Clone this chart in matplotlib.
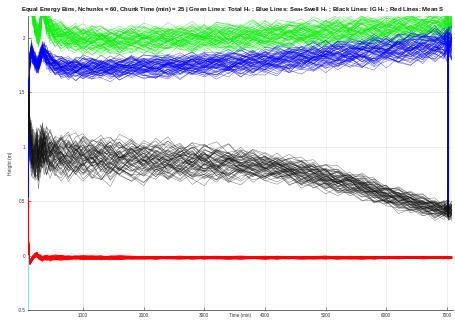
import numpy as np
import matplotlib
matplotlib.use("Agg")
import matplotlib.pyplot as plt

plt.rcParams['font.family'] = ['Liberation Sans', 'DejaVu Sans']

xk = [93, 110, 125, 150, 175, 210, 240, 265, 300, 330, 360, 400, 460, 540, 640,
      760, 880, 1000, 1150, 1300, 1450, 1600, 1800, 2000, 2200, 2400, 2600, 2800,
      3000, 3200, 3400, 3600, 3800, 4000, 4200, 4400, 4600, 4800, 5000, 5200,
      5400, 5600, 5800, 6000, 6200, 6400, 6600, 6800, 6950, 7005, 7016, 7030, 7080]

# Total Hs (green), band centre and half width
green_c = [2.45, 2.3, 2.28, 2.33, 2.22, 2.1, 2.04, 2.02, 2.12, 2.3, 2.24, 2.14, 2.08,
           2.04, 2.02, 2.0, 1.99, 1.98, 1.98, 1.97, 1.97, 1.97, 1.98, 1.98, 1.98,
           1.99, 1.99, 1.99, 2.0, 2.0, 2.0, 2.0, 2.01, 2.01, 2.02, 2.02, 2.03, 2.03,
           2.04, 2.05, 2.05, 2.06, 2.06, 2.07, 2.08, 2.08, 2.09, 2.1, 2.1, 2.1, 2.1,
           2.1, 2.1]
green_w = [0.08, 0.1, 0.1, 0.12, 0.12, 0.11, 0.11, 0.11, 0.12, 0.13, 0.13, 0.13, 0.13,
           0.13, 0.13, 0.14, 0.14, 0.14, 0.14, 0.14, 0.14, 0.14, 0.14, 0.14, 0.14,
           0.14, 0.14, 0.14, 0.14, 0.15, 0.15, 0.15, 0.15, 0.15, 0.15, 0.15, 0.15,
           0.15, 0.15, 0.16, 0.16, 0.16, 0.16, 0.16, 0.16, 0.16, 0.16, 0.16, 0.16,
           0.16, 0.16, 0.16, 0.16]

# Sea+Swell Hs (blue)
blue_c = [0.55, 1.55, 1.8, 1.88, 1.83, 1.78, 1.75, 1.76, 1.83, 1.88, 1.86, 1.82, 1.78,
          1.75, 1.73, 1.72, 1.72, 1.72, 1.72, 1.72, 1.72, 1.72, 1.73, 1.73, 1.73,
          1.74, 1.74, 1.75, 1.75, 1.76, 1.76, 1.77, 1.77, 1.78, 1.79, 1.8, 1.81,
          1.82, 1.83, 1.84, 1.85, 1.86, 1.87, 1.88, 1.89, 1.9, 1.91, 1.93, 1.94,
          1.94, 0.45, 1.94, 1.94]
blue_w = [0.03, 0.08, 0.09, 0.09, 0.09, 0.09, 0.09, 0.09, 0.09, 0.09, 0.1, 0.1, 0.1,
          0.1, 0.11, 0.11, 0.11, 0.11, 0.11, 0.11, 0.11, 0.11, 0.12, 0.12, 0.12,
          0.12, 0.12, 0.12, 0.12, 0.13, 0.13, 0.13, 0.13, 0.13, 0.14, 0.14, 0.14,
          0.14, 0.14, 0.15, 0.15, 0.15, 0.15, 0.15, 0.16, 0.16, 0.16, 0.16, 0.16,
          0.16, 0.02, 0.16, 0.16]

# IG Hs (black)
black_c = [1.4, 1.25, 1.08, 0.98, 0.92, 0.9, 0.95, 0.88, 0.95, 1.0, 0.98, 0.95, 0.93,
           0.92, 0.91, 0.9, 0.9, 0.9, 0.89, 0.89, 0.88, 0.88, 0.88, 0.87, 0.87,
           0.86, 0.86, 0.85, 0.85, 0.84, 0.84, 0.83, 0.82, 0.81, 0.8, 0.78, 0.76,
           0.74, 0.71, 0.68, 0.66, 0.63, 0.59, 0.55, 0.52, 0.49, 0.46, 0.43, 0.42,
           0.42, 0.42, 0.41, 0.41]
black_w = [0.15, 0.22, 0.26, 0.26, 0.25, 0.24, 0.24, 0.25, 0.25, 0.24, 0.23, 0.22, 0.22,
           0.22, 0.22, 0.22, 0.22, 0.22, 0.22, 0.22, 0.22, 0.21, 0.21, 0.21, 0.21,
           0.2, 0.2, 0.2, 0.2, 0.19, 0.18, 0.17, 0.16, 0.15, 0.14, 0.14, 0.14,
           0.14, 0.14, 0.13, 0.13, 0.13, 0.12, 0.12, 0.12, 0.11, 0.1, 0.1, 0.09,
           0.09, 0.09, 0.09, 0.09]

# mean (red)
red_c = [0.5, -0.04, -0.06, -0.04, -0.02, 0.0, 0.01, -0.01, -0.02, -0.03, -0.02, -0.02,
         -0.025, -0.02, -0.02, -0.02, -0.02, -0.02, -0.02, -0.02, -0.02, -0.02, -0.02,
         -0.02, -0.02, -0.02, -0.02, -0.02, -0.02, -0.02, -0.02, -0.02, -0.02, -0.02,
         -0.02, -0.02, -0.02, -0.02, -0.02, -0.02, -0.02, -0.02, -0.02, -0.02, -0.02,
         -0.02, -0.02, -0.02, -0.02, -0.02, -0.02, -0.02, -0.02]
red_w = [0.02, 0.025, 0.025, 0.025, 0.025, 0.025, 0.025, 0.025, 0.025, 0.025, 0.025,
         0.025, 0.025, 0.025, 0.025, 0.02, 0.02, 0.02, 0.02, 0.02, 0.02, 0.02, 0.015,
         0.015, 0.015, 0.015, 0.015, 0.015, 0.015, 0.015, 0.015, 0.015, 0.015, 0.015,
         0.015, 0.015, 0.015, 0.015, 0.015, 0.015, 0.015, 0.015, 0.015, 0.012, 0.012,
         0.012, 0.012, 0.012, 0.012, 0.012, 0.012, 0.012, 0.012]

# short cyan trace at the start
cyan_x = [93, 93]
cyan_y = [0.0, -0.5]

# per-chunk position inside the band and a wiggle pattern (estimated)
offsets = [0.05, -0.3, 0.6, -0.1, 0.25, -0.7, 0.15, 0.9, -0.45, 0.35, -0.05, 0.5,
           -0.2, -0.95, 0.1, 0.7, -0.35, 0.2, -0.6, 0.4, 0.0, -0.15, 0.8, -0.5, 0.3,
           -0.25, 0.55, -0.8, 0.12, -0.4, 0.65, -0.08, 0.45, -0.55, 0.22, 1.0, -0.18,
           0.33, -0.75, 0.08, -0.28, 0.58, -0.02, 0.38, -0.65, 0.18, -0.9, 0.48,
           -0.12, 0.28, -0.48, 0.75, -0.22, 0.02, 0.62, -0.38, 0.42, -0.58, 0.85, -0.85]
wiggle = [0.3, -0.2, 0.5, 0.1, -0.6, -0.1, 0.7, 0.2, -0.4, 0.6, -0.8, 0.0, 0.4, -0.3, 0.9, -0.5, 0.2, -0.7, 0.5, 0.8,
          -0.2, -0.9, 0.3, 0.6, -0.4, 0.1, -0.6, 0.7, -0.1, 0.4, -0.8, 0.2, 0.9, -0.3, -0.5, 0.6, 0.0, -0.7, 0.3, 0.8,
          -0.4, 0.5, -0.2, -0.9, 0.7, 0.1, -0.5, 0.4, -0.1, 0.8, -0.6, 0.2, 0.6, -0.3, -0.8, 0.5, 0.3, -0.4, 0.9, -0.2,
          0.1, -0.7, 0.6, 0.4, -0.5, 0.0, 0.7, -0.9, 0.3, -0.1, 0.5, -0.6, 0.8, 0.2, -0.4, -0.2, 0.9, -0.7, 0.4, 0.1,
          -0.3, 0.6, -0.8, 0.5, 0.2, -0.5, 0.7, -0.1, -0.6, 0.3, 0.8, -0.4, 0.0, 0.6, -0.9, 0.4, -0.2, 0.7, -0.5, 0.1,
          0.5, -0.3, 0.9, -0.6, 0.2, -0.8, 0.4, 0.6, -0.1, -0.4]

xticks = [1000, 2000, 3000, 4000, 5000, 6000, 7000]
yticks = [-0.5, 0, 0.5, 1, 1.5, 2]
ytick_labels = ['-0.5', '0', '0.5', '1', '1.5', '2']

title = ('Equal Energy Bins, Nchunks = 60, Chunk Time (min) = 25 | Green Lines: Total H$_s$ ; '
         'Blue Lines: Sea+Swell H$_s$ ; Black Lines: IG H$_s$ ; Red Lines: Mean S')


def chunk_lines(centre, width, shift):
	K = len(xk)
	off = np.roll(np.array(offsets), shift)
	W = np.array(wiggle)
	span = len(W) - K + 1
	cols = []
	for i in range(len(off)):
		s = (i * 13 + shift) % span
		cols.append(np.array(centre) + np.array(width) * (0.75 * off[i] + 0.45 * W[s:s + K]))
	return np.array(cols).T


fig = plt.figure(figsize=(4.56, 3.2), dpi=100)
ax = fig.add_axes([28 / 456, 10 / 320, 425 / 456, 294 / 320])

ax.plot(xk, chunk_lines(green_c, green_w, 0), color='#11ee11', lw=0.3, alpha=0.85, zorder=3)
ax.plot(xk, chunk_lines(blue_c, blue_w, 17), color='#0000ff', lw=0.3, alpha=0.75, zorder=3)
ax.plot(xk, chunk_lines(black_c, black_w, 31), color='#111111', lw=0.3, alpha=0.65, zorder=3)
ax.plot(xk, chunk_lines(red_c, red_w, 44), color='#ff0000', lw=0.4, alpha=0.8, zorder=3)
ax.plot(cyan_x, cyan_y, color='#aaf0f0', lw=1.2, zorder=3)

ax.set_xlim(93, 7100)
ax.set_ylim(-0.5, 2.2)
ax.set_xticks(xticks)
ax.set_yticks(yticks)
ax.set_yticklabels(ytick_labels)
ax.tick_params(direction='in', length=2, width=0.4, labelsize=3.3, colors='#333333', pad=2)
ax.grid(color='#e8e8e8', lw=0.5)
ax.set_axisbelow(True)
for s in ['top', 'right']:
	ax.spines[s].set_visible(False)
for s in ['left', 'bottom']:
	ax.spines[s].set_color('#555555')
	ax.spines[s].set_linewidth(0.6)
	ax.spines[s].set_zorder(1)

ax.set_ylabel('Height (m)', fontsize=3.6, color='#333333', labelpad=3)
ax.set_xlabel('Time (min)', fontsize=3.3, color='#333333')
ax.xaxis.set_label_coords(0.5, -0.011)

fig.text(21 / 456, 1 - 10 / 320, title,
	fontsize=4.3, fontweight='bold', ha='left', va='center', color='#111111')

fig.savefig('out.png', dpi=100)
